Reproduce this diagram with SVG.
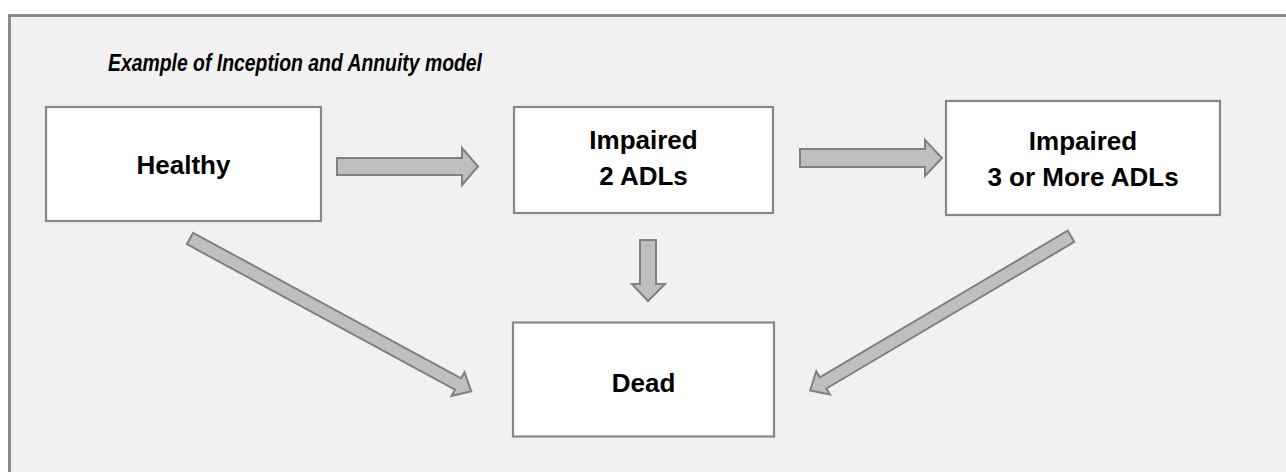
<svg xmlns="http://www.w3.org/2000/svg" width="1286" height="472" viewBox="0 0 1286 472">
<style>
.box{fill:#ffffff;stroke:#878787;stroke-width:2.2}
.arr{fill:#bfbfbf;stroke:#808080;stroke-width:2;stroke-linejoin:miter}
.lbl{font-family:"Liberation Sans",Arial,sans-serif;font-weight:bold;font-size:26px;fill:#000;text-anchor:middle}
.title{font-family:"Liberation Sans",Arial,sans-serif;font-weight:bold;font-style:italic;font-size:23px;fill:#000}
</style>
<rect x="0" y="0" width="1286" height="472" fill="#ffffff"/>
<rect id="frame" x="9.5" y="15.5" width="1300" height="480" fill="#f1f1f1" stroke="#8a8a8a" stroke-width="3"/>
<text class="title" x="108" y="71" textLength="374" lengthAdjust="spacingAndGlyphs">Example of Inception and Annuity model</text>
<g id="connectors">
<polygon class="arr" points="337,158 462,158 462,148 478,166.5 462,185 462,175 337,175"/>
<polygon class="arr" points="800,149 925,149 925,140 942,158 925,176 925,167 800,167"/>
<polygon class="arr" points="640,240 656,240 656,284 665,284 648,301 632,284 640,284"/>
<polygon class="arr" transform="translate(190,238.5) rotate(28.5)" points="0,-6.5 305,-6.5 305,-13.5 320,0 305,13.5 305,6.5 0,6.5"/>
<polygon class="arr" transform="translate(1071,236.3) rotate(149.4)" points="0,-6.5 288,-6.5 288,-13.5 303,0 288,13.5 288,6.5 0,6.5"/>
</g>
<g id="healthy">
<rect class="box" x="46" y="107" width="275" height="114"/>
<text class="lbl" x="183.5" y="174">Healthy</text>
</g>
<g id="impaired2">
<rect class="box" x="514" y="107" width="259" height="106"/>
<text class="lbl" x="643.5" y="149">Impaired</text>
<text class="lbl" x="643.5" y="185">2 ADLs</text>
</g>
<g id="impaired3">
<rect class="box" x="946" y="101" width="274" height="114"/>
<text class="lbl" x="1083" y="150">Impaired</text>
<text class="lbl" x="1083" y="186">3 or More ADLs</text>
</g>
<g id="dead">
<rect class="box" x="513" y="322.5" width="261" height="114"/>
<text class="lbl" x="643.5" y="392">Dead</text>
</g>
</svg>
